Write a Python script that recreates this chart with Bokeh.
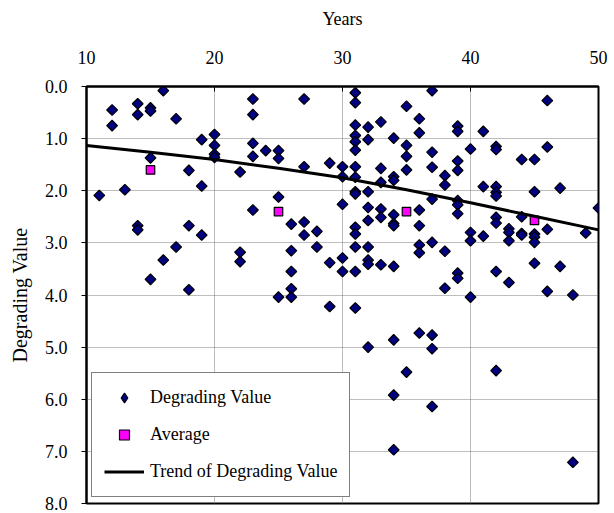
import math
from bokeh.plotting import figure
from bokeh.models import Range1d, FixedTicker, PrintfTickFormatter, Legend, LegendItem
from bokeh.embed import file_html
from bokeh.resources import INLINE

# Degrading Value points (year, value)
deg_years = [
    11,
    12, 12,
    13,
    14, 14, 14, 14,
    15, 15, 15, 15,
    16, 16,
    17, 17,
    18, 18, 18,
    19, 19, 19,
    20, 20, 20, 20,
    22, 22, 22,
    23, 23, 23, 23, 23,
    24,
    25, 25, 25, 25,
    26, 26, 26, 26, 26,
    27, 27, 27, 27,
    28, 28,
    29, 29, 29,
    30, 30, 30, 30, 30,
    31, 31, 31, 31, 31, 31, 31, 31, 31, 31, 31, 31, 31, 31, 31,
    32, 32, 32, 32, 32, 32, 32, 32, 32,
    33, 33, 33, 33, 33, 33,
    34, 34, 34, 34, 34, 34, 34, 34, 34, 34,
    35, 35, 35, 35, 35,
    36, 36, 36, 36, 36, 36, 36,
    37, 37, 37, 37, 37, 37, 37, 37,
    38, 38, 38, 38,
    39, 39, 39, 39, 39, 39, 39, 39, 39,
    40, 40, 40, 40,
    41, 41, 41,
    42, 42, 42, 42, 42, 42, 42, 42, 42,
    43, 43, 43, 43,
    44, 44, 44, 44,
    45, 45, 45, 45, 45, 45,
    46, 46, 46, 46,
    47, 47,
    48, 48,
    49,
    50,
]
deg_values = [
    2.09,
    0.45, 0.75,
    1.98,
    0.33, 0.54, 2.67, 2.75,
    0.41, 0.47, 1.37, 3.70,
    0.08, 3.33,
    0.62, 3.08,
    1.61, 2.67, 3.90,
    1.02, 1.91, 2.85,
    0.92, 1.13, 1.30, 1.36,
    1.64, 3.18, 3.36,
    0.24, 0.54, 1.09, 1.34, 2.37,
    1.23,
    1.23, 1.38, 2.12, 4.04,
    2.64, 3.15, 3.55, 3.88, 4.04,
    0.24, 1.54, 2.60, 2.85,
    2.78, 3.08,
    1.47, 3.38, 4.22,
    1.54, 1.73, 2.26, 3.29, 3.55,
    0.12, 0.31, 0.74, 0.94, 1.06, 1.22, 1.54, 1.74, 2.02, 2.06, 2.70, 2.83, 3.08, 3.55, 4.25,
    0.78, 1.02, 2.02, 2.32, 2.57, 3.08, 3.33, 3.41, 5.00,
    0.68, 1.57, 1.84, 2.35, 2.51, 3.42,
    0.99, 1.73, 1.80, 2.46, 2.63, 2.67, 3.45, 4.86, 5.92, 6.97,
    0.38, 1.13, 1.34, 1.60, 5.48,
    0.62, 0.89, 2.37, 2.67, 3.04, 3.19, 4.73,
    0.08, 1.26, 1.55, 2.16, 2.99, 4.77, 5.03, 6.14,
    1.71, 1.89, 3.16, 3.87,
    0.76, 0.86, 1.43, 1.61, 2.19, 2.27, 2.44, 3.58, 3.68,
    1.20, 2.80, 2.96, 4.04,
    0.86, 1.92, 2.87,
    1.15, 1.21, 1.92, 2.03, 2.10, 2.51, 2.62, 3.55, 5.45,
    2.73, 2.80, 2.96, 3.76,
    1.40, 2.50, 2.82, 2.85,
    1.40, 2.02, 2.83, 2.89, 2.99, 3.39,
    0.27, 1.16, 2.74, 3.93,
    1.95, 3.45,
    4.00, 7.21,
    2.81,
    2.33,
]

avg_years = [15, 25, 35, 45]
avg_values = [1.60, 2.40, 2.40, 2.57]

trend_years = [10, 15, 20, 25, 30, 35, 40, 45, 50]
trend_values = [1.13, 1.26, 1.40, 1.57, 1.75, 1.98, 2.23, 2.49, 2.75]

x_ticks = [10, 20, 30, 40, 50]
y_ticks = [0, 1, 2, 3, 4, 5, 6, 7, 8]

FONT = "Liberation Serif"

p = figure(width=614, height=513,
           x_range=Range1d(10, 50), y_range=Range1d(8, 0),
           x_axis_location="above",
           output_backend="svg", toolbar_location=None,
           min_border_left=86, min_border_right=16,
           min_border_top=86, min_border_bottom=10)

p.background_fill_color = "white"
p.border_fill_color = "white"
p.outline_line_color = "black"
p.outline_line_width = 2

# axes
p.xaxis.ticker = FixedTicker(ticks=x_ticks)
p.yaxis.ticker = FixedTicker(ticks=y_ticks)
p.yaxis.formatter = PrintfTickFormatter(format="%.1f")
p.xaxis.axis_label = "Years"
p.yaxis.axis_label = "Degrading Value"
for ax in (p.xaxis, p.yaxis):
    ax.axis_line_color = "black"
    ax.axis_line_width = 2
    ax.major_tick_line_color = "black"
    ax.major_tick_line_width = 1
    ax.minor_tick_line_color = None
    ax.major_label_text_font = FONT
    ax.major_label_text_font_size = "18px"
    ax.major_label_text_color = "black"
    ax.axis_label_text_font = FONT
    ax.axis_label_text_font_size = "18px"
    ax.axis_label_text_font_style = "normal"
    ax.axis_label_text_color = "black"
p.yaxis.axis_label_text_font_size = "20px"
p.xaxis.major_tick_in = 5
p.xaxis.major_tick_out = 0
p.xaxis.major_label_standoff = 23
p.xaxis.axis_label_standoff = 19
p.yaxis.major_tick_in = 0
p.yaxis.major_tick_out = 5
p.yaxis.major_label_standoff = 14
p.yaxis.axis_label_standoff = 11

# grid
p.xgrid.ticker = FixedTicker(ticks=x_ticks)
p.ygrid.ticker = FixedTicker(ticks=y_ticks)
p.grid.grid_line_color = "#7a7a7a"
p.grid.grid_line_dash = "1 1"
p.grid.grid_line_width = 1

r_deg = p.scatter(deg_years, deg_values, marker="square", angle=math.pi / 4,
                  size=7.6, fill_color="#000080", line_color="black", line_width=1.2)
r_avg = p.scatter(avg_years, avg_values, marker="square", size=8.5,
                  fill_color="#FF00FF", line_color="black", line_width=1.2)
r_trend = p.line(trend_years, trend_values, line_color="black", line_width=3)

# legend key only (NaN position -> nothing drawn in the plot); shows a diamond shape
r_deg_key = p.scatter(x=[float("nan")], y=[float("nan")], marker="diamond",
                      fill_color="#000080", line_color="black", line_width=1.2)

legend = Legend(items=[
    LegendItem(label="Degrading Value", renderers=[r_deg_key]),
    LegendItem(label="Average", renderers=[r_avg]),
    LegendItem(label="Trend of Degrading Value", renderers=[r_trend]),
], location=(5, 6))
legend.margin = 0
legend.padding = 12
legend.spacing = 12
legend.glyph_width = 40
legend.glyph_height = 25
legend.label_standoff = 6
legend.label_height = 25
legend.label_text_font = FONT
legend.label_text_font_size = "18px"
legend.label_text_color = "black"
legend.border_line_color = "black"
legend.border_line_width = 1.5
legend.background_fill_color = "white"
legend.background_fill_alpha = 1
p.add_layout(legend)

open("out.html", "w").write(file_html(p, INLINE))
